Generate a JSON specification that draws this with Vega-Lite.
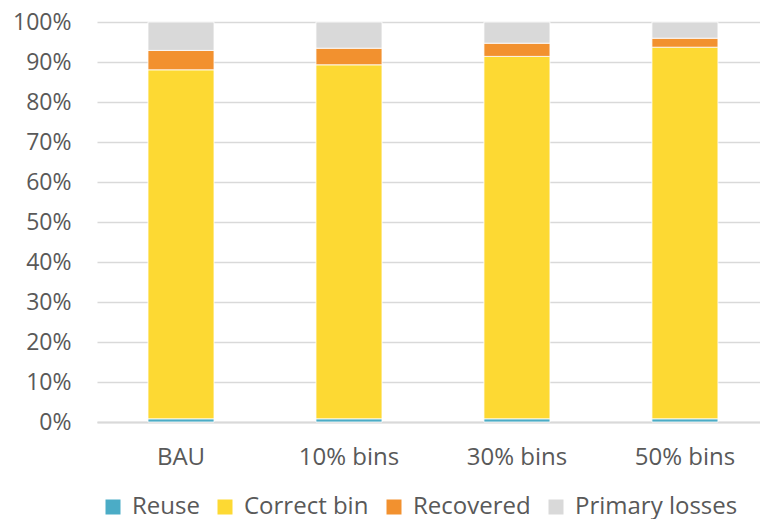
{
  "$schema": "https://vega.github.io/schema/vega-lite/v6.json",
  "width": 663,
  "height": 400,
  "autosize": {"type": "none"},
  "padding": {"left": 97, "top": 22, "right": 0, "bottom": 97},
  "background": "white",
  "config": {
    "view": {"stroke": null},
    "font": "Open Sans",
    "axis": {"labelFont": "Open Sans", "labelColor": "#595959", "labelFontSize": 23},
    "legend": {"labelFont": "Open Sans", "labelColor": "#595959", "labelFontSize": 24, "labelLimit": 300}
  },
  "data": {
    "values": [
      {"scenario": "BAU", "flow": "Reuse", "k": 1, "share": 0.8},
      {"scenario": "BAU", "flow": "Correct bin", "k": 2, "share": 87.25},
      {"scenario": "BAU", "flow": "Recovered", "k": 3, "share": 4.85},
      {"scenario": "BAU", "flow": "Primary losses", "k": 4, "share": 7.1},
      {"scenario": "10% bins", "flow": "Reuse", "k": 1, "share": 0.8},
      {"scenario": "10% bins", "flow": "Correct bin", "k": 2, "share": 88.5},
      {"scenario": "10% bins", "flow": "Recovered", "k": 3, "share": 4.15},
      {"scenario": "10% bins", "flow": "Primary losses", "k": 4, "share": 6.55},
      {"scenario": "30% bins", "flow": "Reuse", "k": 1, "share": 0.8},
      {"scenario": "30% bins", "flow": "Correct bin", "k": 2, "share": 90.6},
      {"scenario": "30% bins", "flow": "Recovered", "k": 3, "share": 3.3},
      {"scenario": "30% bins", "flow": "Primary losses", "k": 4, "share": 5.3},
      {"scenario": "50% bins", "flow": "Reuse", "k": 1, "share": 0.8},
      {"scenario": "50% bins", "flow": "Correct bin", "k": 2, "share": 92.9},
      {"scenario": "50% bins", "flow": "Recovered", "k": 3, "share": 2.25},
      {"scenario": "50% bins", "flow": "Primary losses", "k": 4, "share": 4.05}
    ]
  },
  "mark": {"type": "bar", "stroke": "white", "strokeWidth": 0.8},
  "encoding": {
    "x": {
      "field": "scenario",
      "type": "nominal",
      "sort": ["BAU", "10% bins", "30% bins", "50% bins"],
      "scale": {"paddingInner": 0.607, "paddingOuter": 0.277, "align": 0.548},
      "axis": {
        "title": null,
        "labelAngle": 0,
        "labelFontSize": 24,
        "ticks": false,
        "domain": true,
        "domainColor": "#d9d9d9",
        "domainWidth": 2,
        "labelPadding": 23
      }
    },
    "y": {
      "field": "share",
      "type": "quantitative",
      "stack": "zero",
      "scale": {"domain": [0, 100], "nice": false},
      "axis": {
        "title": null,
        "values": [0, 10, 20, 30, 40, 50, 60, 70, 80, 90, 100],
        "labelExpr": "datum.value + '%'",
        "ticks": false,
        "domain": false,
        "grid": true,
        "gridColor": "#d9d9d9",
        "gridWidth": 1.5,
        "labelPadding": 26
      }
    },
    "color": {
      "field": "flow",
      "type": "nominal",
      "scale": {
        "domain": ["Reuse", "Correct bin", "Recovered", "Primary losses"],
        "range": ["#4bacc6", "#fdd933", "#f2912f", "#d9d9d9"]
      },
      "legend": {
        "title": null,
        "orient": "none",
        "direction": "horizontal",
        "legendX": 4,
        "legendY": 473,
        "symbolType": "square",
        "symbolSize": 225,
        "symbolStrokeWidth": 0,
        "labelOffset": 7,
        "columnPadding": 13
      }
    },
    "order": {"field": "k", "type": "quantitative"}
  }
}
